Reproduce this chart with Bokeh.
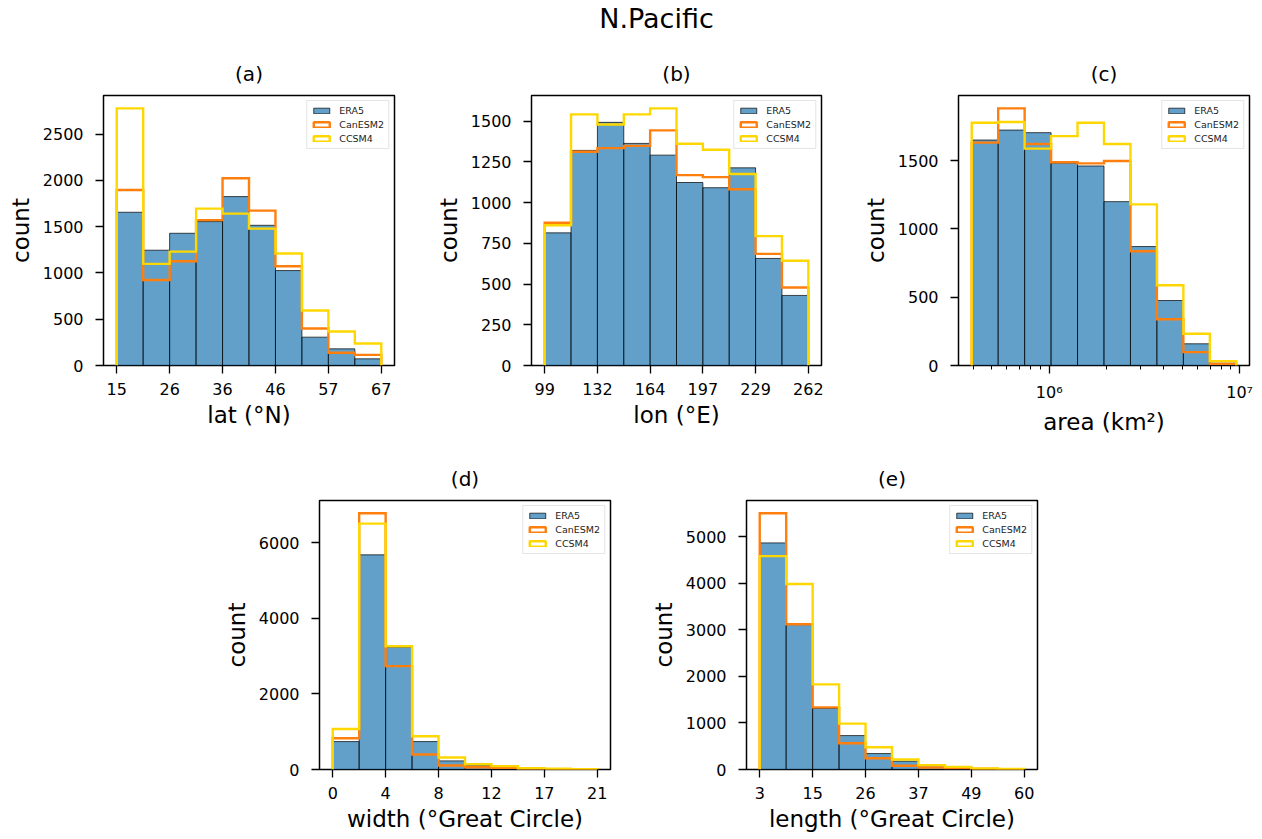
import numpy as np
from bokeh.plotting import figure
from bokeh.models import (FixedTicker, Legend, LegendItem, Label, Spacer, Range1d)
from bokeh.layouts import column, row
from bokeh.embed import file_html
from bokeh.resources import INLINE

FONT = "DejaVu Sans"
ERA5_COLOR = "#1f77b4"
CAN_COLOR = "#ff7f0e"
CCSM_COLOR = "#ffd700"
SERIES = ["ERA5", "CanESM2", "CCSM4"]

# (a) latitude
LAT_EDGE_RANGE = (15.2, 67.2)
LAT_TICK_LABELS = ["15", "26", "36", "46", "57", "67"]
LAT_ERA5 = [1655, 1245, 1428, 1554, 1824, 1514, 1025, 306, 180, 72]
LAT_CANESM2 = [1896, 924, 1126, 1570, 2022, 1673, 1072, 400, 137, 115]
LAT_CCSM4 = [2777, 1097, 1230, 1694, 1640, 1478, 1209, 594, 367, 237]
LAT_YTICKS = [0, 500, 1000, 1500, 2000, 2500]

# (b) longitude
LON_EDGE_RANGE = (99.0, 262.0)
LON_TICK_LABELS = ["99", "132", "164", "197", "229", "262"]
LON_ERA5 = [814, 1320, 1492, 1363, 1291, 1123, 1091, 1213, 657, 430]
LON_CANESM2 = [876, 1312, 1334, 1348, 1443, 1168, 1156, 1082, 685, 479]
LON_CCSM4 = [861, 1541, 1479, 1541, 1578, 1361, 1324, 1175, 794, 643]
LON_YTICKS = [0, 250, 500, 750, 1000, 1250, 1500]

# (c) area (log bins)
AREA_EDGE_RANGE = (3.92e5, 9.6e6)
AREA_TICKS = [1e6, 1e7]
AREA_TICK_LABELS = ["10\u2076", "10\u2077"]
AREA_MINOR_TICKS = [4e5, 5e5, 6e5, 7e5, 8e5, 9e5, 2e6, 3e6, 4e6, 5e6, 6e6, 7e6, 8e6, 9e6]
AREA_ERA5 = [1651, 1724, 1705, 1483, 1461, 1200, 871, 476, 159, 17]
AREA_CANESM2 = [1632, 1883, 1622, 1488, 1480, 1498, 837, 339, 98, 12]
AREA_CCSM4 = [1778, 1783, 1588, 1680, 1778, 1622, 1180, 588, 232, 32]
AREA_YTICKS = [0, 500, 1000, 1500]

# (d) width
WIDTH_EDGE_RANGE = (0.0, 20.75)
WIDTH_TICK_LABELS = ["0", "4", "8", "12", "17", "21"]
WIDTH_ERA5 = [738, 5675, 3233, 738, 228, 114, 53, 26, 9, 5]
WIDTH_CANESM2 = [826, 6773, 2732, 395, 105, 61, 44, 18, 9, 4]
WIDTH_CCSM4 = [1072, 6501, 3259, 878, 316, 140, 88, 35, 18, 9]
WIDTH_YTICKS = [0, 2000, 4000, 6000]

# (e) length
LENGTH_EDGE_RANGE = (3.2, 60.2)
LENGTH_TICK_LABELS = ["3", "15", "26", "37", "49", "60"]
LENGTH_ERA5 = [4871, 3114, 1314, 729, 343, 179, 86, 50, 21, 14]
LENGTH_CANESM2 = [5507, 3121, 1336, 564, 243, 79, 43, 29, 14, 7]
LENGTH_CCSM4 = [4586, 3986, 1829, 986, 479, 214, 93, 57, 21, 14]
LENGTH_YTICKS = [0, 1000, 2000, 3000, 4000, 5000]


def step_outline(edges, counts):
    xs = [edges[0]]
    ys = [0]
    for i, c in enumerate(counts):
        xs += [edges[i], edges[i + 1]]
        ys += [c, c]
    xs.append(edges[-1])
    ys.append(0)
    return xs, ys


def make_panel(title, xlabel, edge_range, era5, can, ccsm, yticks,
               xtick_labels=None, log=False, log_ticks=None, log_labels=None,
               log_minor=None, frame_w=291, frame_h=270,
               b_left=103, b_right=10, b_top=45, b_bottom=70):
    n = len(era5)
    if log:
        edges = [float(v) for v in np.geomspace(edge_range[0], edge_range[1], n + 1)]
        l0, l1 = np.log10(edges[0]), np.log10(edges[-1])
        m = 0.05 * (l1 - l0)
        xr = Range1d(10 ** (l0 - m), 10 ** (l1 + m))
    else:
        edges = [round(float(v), 6) for v in np.linspace(edge_range[0], edge_range[1], n + 1)]
        m = 0.05 * (edges[-1] - edges[0])
        xr = Range1d(edges[0] - m, edges[-1] + m)
    ymax = 1.05 * max(max(era5), max(can), max(ccsm))
    p = figure(frame_width=frame_w, frame_height=frame_h,
               x_range=xr, y_range=Range1d(0, ymax),
               x_axis_type="log" if log else "linear",
               output_backend="svg", toolbar_location=None,
               min_border_left=b_left, min_border_right=b_right,
               min_border_top=b_top, min_border_bottom=b_bottom,
               background_fill_color="white", border_fill_color="white")
    p.title.text = title
    p.title.align = "center"
    p.title.text_font = FONT
    p.title.text_font_size = "20px"
    p.title.text_font_style = "normal"
    p.title.text_color = "black"
    p.title.standoff = 19
    p.xgrid.visible = False
    p.ygrid.visible = False
    p.outline_line_color = "black"
    p.outline_line_alpha = 1.0
    p.outline_line_width = 1.5

    r_era = p.quad(left=edges[:-1], right=edges[1:], top=era5, bottom=[0] * n,
                   fill_color=ERA5_COLOR, fill_alpha=0.7,
                   line_color="black", line_alpha=0.7, line_width=1)
    xs, ys = step_outline(edges, can)
    p.line(xs, ys, line_color=CAN_COLOR, line_width=2.4, line_join="miter")
    xs, ys = step_outline(edges, ccsm)
    p.line(xs, ys, line_color=CCSM_COLOR, line_width=2.4, line_join="miter")

    # hidden (not visible) quads that only supply the hollow legend swatches
    d_can = p.quad(left=edges[:-1], right=edges[1:], top=can, bottom=[0] * n,
                   fill_color=None, line_color=CAN_COLOR, line_width=2.4, visible=False)
    d_ccsm = p.quad(left=edges[:-1], right=edges[1:], top=ccsm, bottom=[0] * n,
                    fill_color=None, line_color=CCSM_COLOR, line_width=2.4, visible=False)
    legend = Legend(items=[LegendItem(label=SERIES[0], renderers=[r_era]),
                           LegendItem(label=SERIES[1], renderers=[d_can]),
                           LegendItem(label=SERIES[2], renderers=[d_ccsm])],
                    location="top_right")
    legend.inactive_fill_alpha = 0.0
    legend.label_text_font = FONT
    legend.label_text_font_size = "9.5px"
    legend.label_text_color = "#222222"
    legend.glyph_width = 20
    legend.glyph_height = 7
    legend.label_height = 10
    legend.label_standoff = 8
    legend.spacing = 3
    legend.padding = 4
    legend.margin = 5
    legend.border_line_color = "#cccccc"
    legend.border_line_width = 1
    legend.background_fill_alpha = 0.8
    p.add_layout(legend)

    xa = p.xaxis[0]
    ya = p.yaxis[0]
    if log:
        xa.ticker = FixedTicker(ticks=log_ticks, minor_ticks=log_minor)
        xa.major_label_overrides = {float(t): s for t, s in zip(log_ticks, log_labels)}
        xa.minor_tick_line_color = "black"
        xa.minor_tick_out = 4
        xa.minor_tick_in = 0
        xa.minor_tick_line_width = 1
    else:
        ticks = edges[::2]
        xa.ticker = FixedTicker(ticks=ticks)
        xa.major_label_overrides = {float(t): s for t, s in zip(ticks, xtick_labels)}
        xa.minor_tick_line_color = None
    ya.ticker = FixedTicker(ticks=yticks)
    ya.minor_tick_line_color = None
    xa.axis_label = xlabel
    ya.axis_label = "count"
    for ax in (xa, ya):
        ax.axis_line_color = None
        ax.major_tick_line_color = "black"
        ax.major_tick_line_width = 1.3
        ax.major_tick_out = 8
        ax.major_tick_in = 0
        ax.major_label_text_font = FONT
        ax.major_label_text_font_size = "16px"
        ax.major_label_text_color = "black"
        ax.axis_label_text_font = FONT
        ax.axis_label_text_font_size = "23px"
        ax.axis_label_text_font_style = "normal"
        ax.axis_label_text_color = "black"
    xa.major_label_standoff = 9
    xa.axis_label_standoff = 4
    ya.major_label_standoff = 12
    ya.axis_label_standoff = 6
    return p


pa = make_panel("(a)", "lat (\u00b0N)", LAT_EDGE_RANGE, LAT_ERA5, LAT_CANESM2, LAT_CCSM4,
                LAT_YTICKS, xtick_labels=LAT_TICK_LABELS,
                b_left=103, b_right=10)
pb = make_panel("(b)", "lon (\u00b0E)", LON_EDGE_RANGE, LON_ERA5, LON_CANESM2, LON_CCSM4,
                LON_YTICKS, xtick_labels=LON_TICK_LABELS, frame_w=290,
                b_left=127, b_right=10)
pc = make_panel("(c)", "area (km\u00b2)", AREA_EDGE_RANGE, AREA_ERA5, AREA_CANESM2, AREA_CCSM4,
                AREA_YTICKS, log=True, log_ticks=AREA_TICKS, log_labels=AREA_TICK_LABELS,
                log_minor=AREA_MINOR_TICKS, b_left=127, b_right=5)
pd = make_panel("(d)", "width (\u00b0Great Circle)", WIDTH_EDGE_RANGE, WIDTH_ERA5, WIDTH_CANESM2,
                WIDTH_CCSM4, WIDTH_YTICKS, xtick_labels=WIDTH_TICK_LABELS, frame_h=269,
                b_left=95, b_right=10, b_top=63, b_bottom=55)
pe = make_panel("(e)", "length (\u00b0Great Circle)", LENGTH_EDGE_RANGE, LENGTH_ERA5, LENGTH_CANESM2,
                LENGTH_CCSM4, LENGTH_YTICKS, xtick_labels=LENGTH_TICK_LABELS, frame_h=269,
                b_left=126, b_right=10, b_top=63, b_bottom=55)

tp = figure(width=1254, height=50, output_backend="svg", toolbar_location=None,
            min_border=0, x_axis_type=None, y_axis_type=None,
            x_range=Range1d(0, 1), y_range=Range1d(0, 1),
            outline_line_color=None, background_fill_color="white", border_fill_color="white")
tp.xgrid.visible = False
tp.ygrid.visible = False
tp.add_layout(Label(x=656, y=32, x_units="screen", y_units="screen", text="N.Pacific",
                    text_font=FONT, text_font_size="27px", text_align="center",
                    text_baseline="alphabetic", text_color="black"))

layout = column(tp, row(pa, pb, pc), row(Spacer(width=220, height=10), pd, pe))
open("out.html", "w").write(file_html(layout, INLINE))
